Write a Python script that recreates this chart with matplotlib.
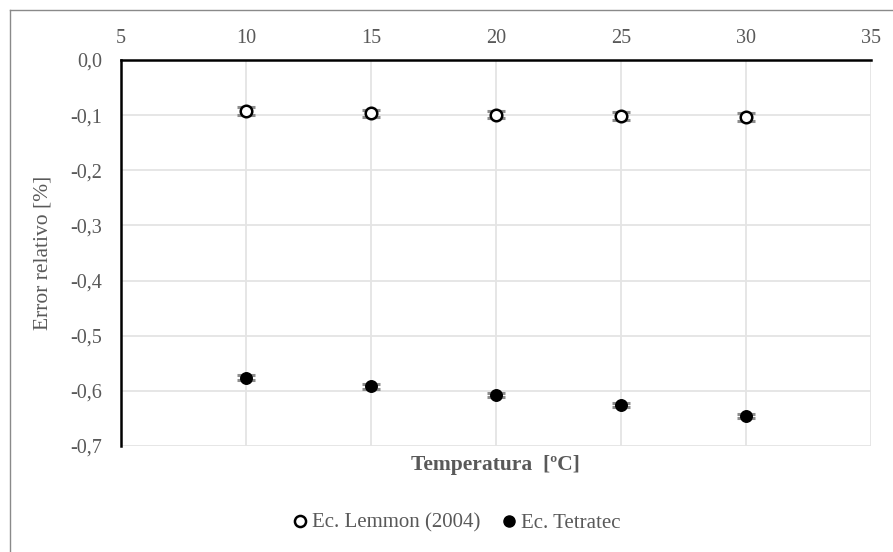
import matplotlib
matplotlib.use('Agg')
import matplotlib.pyplot as plt
from matplotlib.lines import Line2D

# Temperaturas de medición y error relativo de cada ecuación
temperatura = [10, 15, 20, 25, 30]
error_lemmon = [-0.093, -0.097, -0.099, -0.102, -0.104]
error_tetratec = [-0.576, -0.592, -0.608, -0.626, -0.646]
incert_lemmon = [0.007, 0.007, 0.007, 0.007, 0.007]
incert_tetratec = [0.004, 0.004, 0.004, 0.004, 0.004]

x_ticks = [5, 10, 15, 20, 25, 30, 35]
y_ticks = [0.0, -0.1, -0.2, -0.3, -0.4, -0.5, -0.6, -0.7]

gris = '#595959'
plt.rcParams['font.family'] = ['Liberation Serif', 'DejaVu Serif']

fig = plt.figure(figsize=(8.93, 5.52), dpi=100)
ax = fig.add_axes([121 / 893, 1 - 446 / 552, 750 / 893, 386 / 552])

# Barras de error grises y marcadores encima
ax.errorbar(temperatura, error_lemmon, yerr=incert_lemmon, fmt='none',
            ecolor='#8c8c8c', elinewidth=1.5, capsize=6.5, capthick=2.2, zorder=3)
ax.errorbar(temperatura, error_tetratec, yerr=incert_tetratec, fmt='none',
            ecolor='#8c8c8c', elinewidth=1.5, capsize=6.5, capthick=2.2, zorder=3)
ax.plot(temperatura, error_lemmon, 'o', ms=8.3, mfc='white', mec='black', mew=1.8,
        linestyle='none', zorder=4, clip_on=False)
ax.plot(temperatura, error_tetratec, 'o', ms=8.3, mfc='black', mec='black',
        linestyle='none', zorder=4, clip_on=False)

ax.set_xlim(5, 35)
ax.set_ylim(-0.7, 0)
ax.set_xticks(x_ticks)
ax.set_yticks(y_ticks)
ax.set_xticklabels([str(t) for t in x_ticks])
ax.set_yticklabels([('%.1f' % v).replace('.', ',') for v in y_ticks])
ax.xaxis.tick_top()
ax.tick_params(axis='both', length=0, labelsize=14.5, labelcolor=gris)
ax.tick_params(axis='x', pad=8.5)
ax.tick_params(axis='y', pad=13.5)

ax.grid(True, color='#e4e4e4', linewidth=1.3, zorder=0)
ax.set_axisbelow(True)
for lado in ['right', 'bottom']:
    ax.spines[lado].set_visible(False)
for lado in ['top', 'left']:
    ax.spines[lado].set_color('black')
    ax.spines[lado].set_linewidth(1.8)
    ax.spines[lado].set_zorder(5)

fig.text(43 / 893, 1 - 253 / 552, 'Error relativo [%]', fontsize=15.5, color=gris,
         rotation=90, ha='center', va='center')
fig.text(495 / 893, 1 - 465 / 552, 'Temperatura  [ºC]', fontsize=15.5,
         fontweight='bold', color=gris, ha='center', va='center')

# Leyenda inferior
marcas = [
    Line2D([], [], marker='o', ms=8, mfc='white', mec='black', mew=1.8, linestyle='none'),
    Line2D([], [], marker='o', ms=8, mfc='black', mec='black', linestyle='none'),
]
fig.legend(marcas, ['Ec. Lemmon (2004)', 'Ec. Tetratec'], loc='center',
           bbox_to_anchor=(455 / 893, 1 - 523 / 552), ncol=2, frameon=False,
           fontsize=15, labelcolor=gris, handletextpad=0.05, columnspacing=0.9,
           handlelength=1.0)

# Marco exterior del gráfico
fig.add_artist(Line2D([9.5 / 893, 9.5 / 893], [0, 1 - 9.5 / 552],
                      transform=fig.transFigure, color='#8a8a8a', lw=1.0))
fig.add_artist(Line2D([9.5 / 893, 1], [1 - 9.5 / 552, 1 - 9.5 / 552],
                      transform=fig.transFigure, color='#8a8a8a', lw=1.0))

fig.savefig('out.png', dpi=100)
